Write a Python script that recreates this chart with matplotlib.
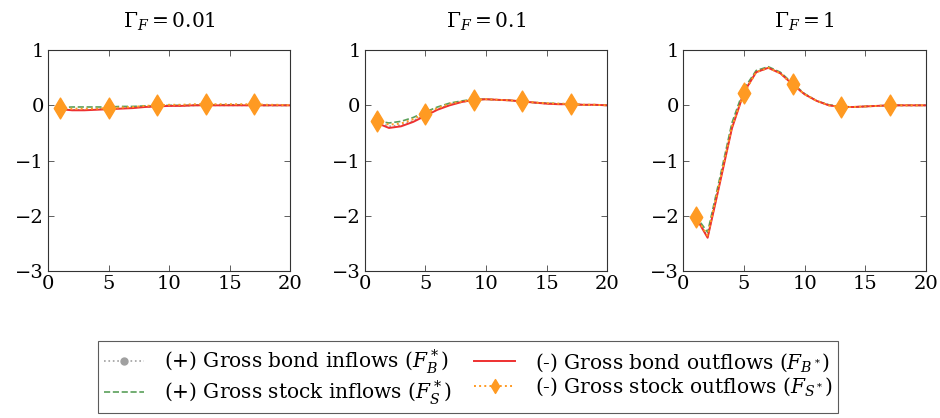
import matplotlib
matplotlib.use("Agg")
import matplotlib.pyplot as plt
from matplotlib.lines import Line2D
from matplotlib.path import Path

plt.rcParams['font.family'] = ['DejaVu Serif']
plt.rcParams['mathtext.fontset'] = 'dejavuserif'

periods = list(range(1, 21))
titles = [r'$\Gamma_F = 0.01$', r'$\Gamma_F = 0.1$', r'$\Gamma_F = 1$']

# Panel 1 (Gamma_F = 0.01)
bond_in_1 = [-0.07, -0.08, -0.08, -0.07, -0.06, -0.05, -0.04, -0.03, -0.02, -0.01,
             -0.01, 0.0, 0.0, 0.0, 0.0, 0.0, 0.0, 0.0, 0.0, 0.0]
stock_in_1 = [-0.04, -0.03, -0.03, -0.03, -0.03, -0.02, -0.02, -0.01, -0.01, 0.0,
              0.0, 0.0, 0.01, 0.01, 0.01, 0.01, 0.0, 0.0, 0.0, 0.0]
bond_out_1 = [-0.07, -0.09, -0.09, -0.08, -0.07, -0.06, -0.05, -0.03, -0.02, -0.01,
              -0.01, 0.0, 0.0, 0.0, 0.0, 0.0, 0.0, 0.0, 0.0, 0.0]
stock_out_1 = [-0.05, -0.06, -0.06, -0.06, -0.05, -0.04, -0.03, -0.01, 0.0, 0.01,
               0.01, 0.02, 0.02, 0.02, 0.02, 0.02, 0.02, 0.01, 0.01, 0.0]

# Panel 2 (Gamma_F = 0.1)
bond_in_2 = [-0.3, -0.38, -0.36, -0.28, -0.17, -0.07, 0.01, 0.06, 0.1, 0.11,
             0.1, 0.09, 0.07, 0.05, 0.03, 0.02, 0.02, 0.01, 0.01, 0.0]
stock_in_2 = [-0.28, -0.32, -0.29, -0.22, -0.12, -0.03, 0.04, 0.08, 0.11, 0.11,
              0.1, 0.09, 0.07, 0.05, 0.04, 0.03, 0.02, 0.01, 0.01, 0.0]
bond_out_2 = [-0.32, -0.41, -0.38, -0.3, -0.19, -0.08, 0.0, 0.06, 0.1, 0.11,
              0.1, 0.09, 0.07, 0.05, 0.03, 0.02, 0.02, 0.01, 0.01, 0.0]
stock_out_2 = [-0.28, -0.35, -0.33, -0.25, -0.15, -0.05, 0.03, 0.07, 0.1, 0.11,
               0.1, 0.09, 0.08, 0.05, 0.04, 0.03, 0.03, 0.01, 0.01, 0.0]

# Panel 3 (Gamma_F = 1)
bond_in_3 = [-2.02, -2.38, -1.4, -0.4, 0.25, 0.6, 0.68, 0.58, 0.38, 0.2,
             0.08, 0.0, -0.03, -0.03, -0.02, -0.01, 0.0, 0.0, 0.0, 0.0]
stock_in_3 = [-2.0, -2.3, -1.32, -0.32, 0.3, 0.63, 0.7, 0.6, 0.4, 0.21,
              0.08, 0.01, -0.02, -0.03, -0.02, -0.01, 0.0, 0.0, 0.0, 0.0]
bond_out_3 = [-2.02, -2.4, -1.42, -0.42, 0.24, 0.6, 0.68, 0.58, 0.38, 0.2,
              0.08, 0.0, -0.03, -0.03, -0.02, -0.01, 0.0, 0.0, 0.0, 0.0]
stock_out_3 = [-2.02, -2.36, -1.38, -0.38, 0.22, 0.6, 0.68, 0.58, 0.38, 0.2,
               0.08, 0.0, -0.03, -0.03, -0.02, -0.01, 0.0, 0.0, 0.0, 0.0]

panels = [
    (bond_in_1, stock_in_1, bond_out_1, stock_out_1),
    (bond_in_2, stock_in_2, bond_out_2, stock_out_2),
    (bond_in_3, stock_in_3, bond_out_3, stock_out_3),
]

labels = [r'(+) Gross bond inflows ($F_B^*$)',
          r'(+) Gross stock inflows ($F_S^*$)',
          r'(-) Gross bond outflows ($F_{B^*}$)',
          r'(-) Gross stock outflows ($F_{S^*}$)']

c_gray = '#a0a0a0'
c_green = '#5aa05a'
c_red = '#ee3030'
c_orange = '#ff9a22'

diamond = Path([(0, 1), (0.6, 0), (0, -1), (-0.6, 0), (0, 1)],
               [Path.MOVETO, Path.LINETO, Path.LINETO, Path.LINETO, Path.CLOSEPOLY])

fig = plt.figure(figsize=(9.4, 4.18), dpi=100)
lefts = [0.051, 0.388, 0.727]
width = 0.258
bottom = 0.352
height = 0.528

for i, (bi, si, bo, so) in enumerate(panels):
    ax = fig.add_axes([lefts[i], bottom, width, height])
    ax.plot(periods, bi, color=c_gray, linestyle=':', linewidth=1.2,
            marker='o', markersize=4, markevery=4)
    ax.plot(periods, si, color=c_green, linestyle='--', linewidth=1.2)
    ax.plot(periods, bo, color=c_red, linestyle='-', linewidth=1.4)
    ax.plot(periods, so, color=c_orange, linestyle=':', linewidth=1.4,
            marker=diamond, markersize=15, markevery=4,
            markeredgecolor=c_orange, markerfacecolor=c_orange)
    ax.set_xlim(0, 20)
    ax.set_ylim(-3, 1)
    ax.set_xticks([0, 5, 10, 15, 20])
    ax.set_yticks([-3, -2, -1, 0, 1])
    ax.set_yticklabels(['\u22123', '\u22122', '\u22121', '0', '1'])
    ax.tick_params(direction='in', top=True, right=True, labelsize=14,
                   length=4, width=0.6, color='#444444', pad=3)
    for sp in ax.spines.values():
        sp.set_color('#333333')
        sp.set_linewidth(0.8)
    ax.set_title(titles[i], fontsize=14.5, pad=16)

handles = [
    Line2D([], [], color=c_gray, linestyle=':', linewidth=1.2, marker='o', markersize=5),
    Line2D([], [], color=c_green, linestyle='--', linewidth=1.2),
    Line2D([], [], color=c_red, linestyle='-', linewidth=1.4),
    Line2D([], [], color=c_orange, linestyle=':', linewidth=1.4, marker=diamond,
           markersize=10, markeredgecolor=c_orange, markerfacecolor=c_orange),
]

leg = fig.legend(handles, labels, ncol=2, loc='lower center',
                 bbox_to_anchor=(0.498, 0.012), fontsize=14.5, frameon=True,
                 fancybox=False, handlelength=2.0, columnspacing=1.1,
                 borderpad=0.3, labelspacing=0.1, handletextpad=1.0,
                 borderaxespad=0.0)
leg.get_frame().set_edgecolor('#333333')
leg.get_frame().set_linewidth(0.8)

fig.savefig('out.png', dpi=100)
